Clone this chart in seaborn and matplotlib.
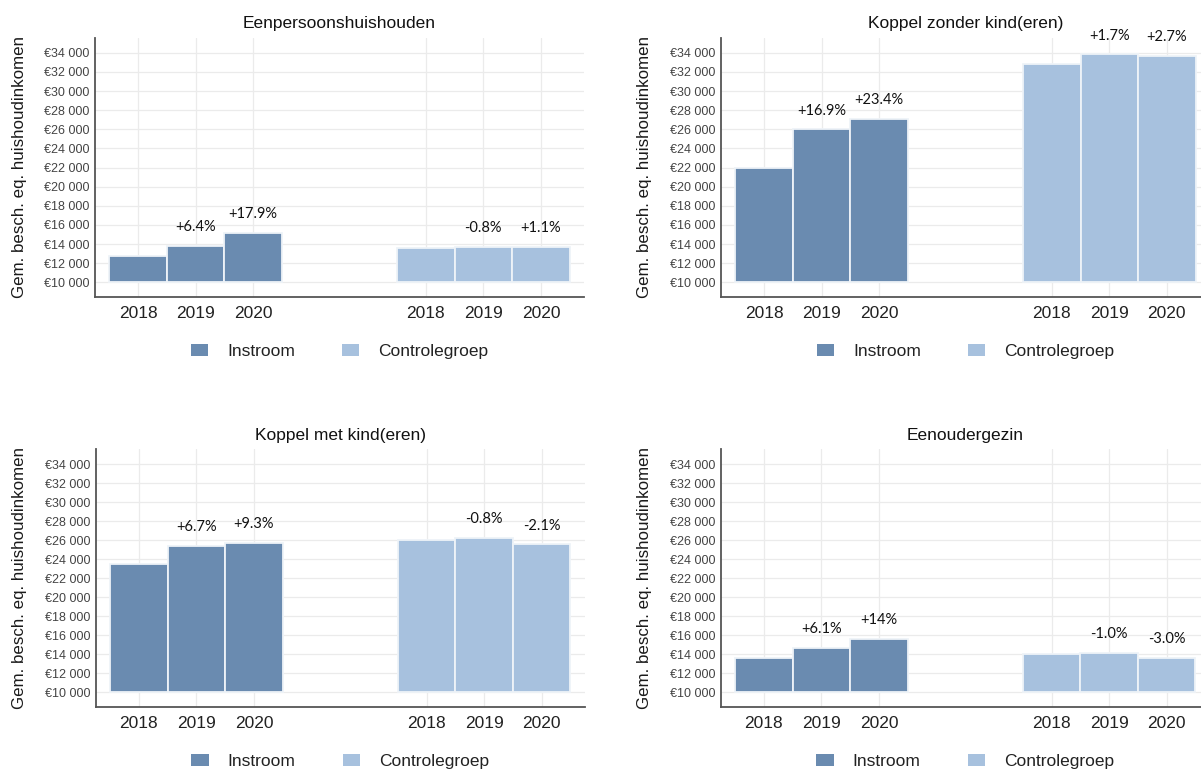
import pandas as pd
import matplotlib
matplotlib.use('Agg')
import matplotlib.pyplot as plt
import matplotlib.ticker as mticker
from matplotlib.patches import Patch
import seaborn as sns

# values
jaren = ['2018', '2019', '2020']
groepen = ['Instroom', 'Controlegroep']
titels = ['Eenpersoonshuishouden', 'Koppel zonder kind(eren)',
          'Koppel met kind(eren)', 'Eenoudergezin']

instroom_eenpersoons = [12790, 13830, 15150]
controle_eenpersoons = [13560, 13670, 13700]
instroom_zonder_kind = [22000, 26000, 27100]
controle_zonder_kind = [32830, 33850, 33680]
instroom_met_kind = [23460, 25400, 25680]
controle_met_kind = [26030, 26200, 25550]
instroom_eenouder = [13650, 14700, 15590]
controle_eenouder = [14070, 14130, 13650]

pct_instroom_eenpersoons = ['', '+6.4%', '+17.9%']
pct_controle_eenpersoons = ['', '-0.8%', '+1.1%']
pct_instroom_zonder_kind = ['', '+16.9%', '+23.4%']
pct_controle_zonder_kind = ['', '+1.7%', '+2.7%']
pct_instroom_met_kind = ['', '+6.7%', '+9.3%']
pct_controle_met_kind = ['', '-0.8%', '-2.1%']
pct_instroom_eenouder = ['', '+6.1%', '+14%']
pct_controle_eenouder = ['', '-1.0%', '-3.0%']

y_ticks = list(range(10000, 34001, 2000))
basis = 10000

kleuren = {'Instroom': '#6a8bb0', 'Controlegroep': '#a7c1de'}

panels = [
    (titels[0], instroom_eenpersoons, controle_eenpersoons, pct_instroom_eenpersoons, pct_controle_eenpersoons),
    (titels[1], instroom_zonder_kind, controle_zonder_kind, pct_instroom_zonder_kind, pct_controle_zonder_kind),
    (titels[2], instroom_met_kind, controle_met_kind, pct_instroom_met_kind, pct_controle_met_kind),
    (titels[3], instroom_eenouder, controle_eenouder, pct_instroom_eenouder, pct_controle_eenouder),
]

# category slots: three years per group with two empty slots between
volgorde = ['I2018', 'I2019', 'I2020', 'leeg1', 'leeg2', 'C2018', 'C2019', 'C2020']
tick_pos = [0, 1, 2, 5, 6, 7]

# axes rectangles in figure fractions (left, bottom, width, height)
posities = [
    [0.0791, 0.6152, 0.4072, 0.3355],
    [0.6003, 0.6152, 0.4072, 0.3355],
    [0.0797, 0.0834, 0.4072, 0.3339],
    [0.6001, 0.0834, 0.4072, 0.3339],
]


def make_frame(instroom, controle, pct_i, pct_c):
    rows = []
    for jaar, waarde, pct in zip(jaren, instroom, pct_i):
        rows.append({'slot': 'I' + jaar, 'groep': 'Instroom', 'waarde': waarde, 'pct': pct})
    for jaar, waarde, pct in zip(jaren, controle, pct_c):
        rows.append({'slot': 'C' + jaar, 'groep': 'Controlegroep', 'waarde': waarde, 'pct': pct})
    df = pd.DataFrame(rows)
    df['hoogte'] = df['waarde'] - basis
    return df


def euro(v, _):
    return '€' + f'{int(v):,}'.replace(',', ' ')


def plot_panel(ax, titel, df):
    sns.barplot(data=df, x='slot', y='hoogte', hue='groep', order=volgorde,
                hue_order=groepen, palette=kleuren, dodge=False, width=1.0,
                saturation=1, errorbar=None, bottom=basis, edgecolor='#eef3f8',
                linewidth=1.3, legend=False, ax=ax)
    ax.set_ylim(8500, 35550)
    ax.set_xlim(-0.75, 7.75)
    ax.set_yticks(y_ticks)
    ax.yaxis.set_major_formatter(mticker.FuncFormatter(euro))
    ax.set_xticks(tick_pos)
    ax.set_xticklabels(jaren * 2)
    ax.tick_params(axis='y', labelsize=9, colors='#444444', length=0, pad=4)
    ax.tick_params(axis='x', labelsize=12.5, labelcolor='#222222', length=0, pad=7)
    ax.set_xlabel('')
    ax.set_ylabel('Gem. besch. eq. huishoudinkomen', fontsize=12.2, color='#1a1a1a')
    ax.yaxis.set_label_coords(-0.14, 0.5)
    ax.set_title(titel, fontsize=12.5, color='#111111', pad=7)
    ax.grid(True, color='#ebebeb', linewidth=0.9)
    ax.set_axisbelow(True)
    for side in ['top', 'right']:
        ax.spines[side].set_visible(False)
    for side in ['left', 'bottom']:
        ax.spines[side].set_visible(True)
        ax.spines[side].set_color('#555555')
        ax.spines[side].set_linewidth(1.3)

    for _, row in df.iterrows():
        if row['pct']:
            x = volgorde.index(row['slot'])
            ax.annotate(row['pct'], (x, row['waarde']), xytext=(0, 13.5),
                        textcoords='offset points', ha='center', va='center',
                        fontsize=10.5, family=['Lato', 'DejaVu Sans'], color='#111111')

    handles = [Patch(facecolor=kleuren[g], edgecolor='none') for g in groepen]
    ax.legend(handles, groepen, loc='center', bbox_to_anchor=(0.5, -0.213),
              ncol=2, frameon=False, fontsize=12.5, handlelength=1.0,
              handleheight=0.7, handletextpad=1.1, columnspacing=2.7,
              labelcolor='#222222')


def main():
    sns.set_theme(style='whitegrid')
    plt.rcParams['font.family'] = ['Liberation Sans', 'DejaVu Sans']
    fig = plt.figure(figsize=(12.01, 7.71), dpi=100)
    for pos, (titel, instroom, controle, pct_i, pct_c) in zip(posities, panels):
        ax = fig.add_axes(pos)
        df = make_frame(instroom, controle, pct_i, pct_c)
        plot_panel(ax, titel, df)
    fig.savefig('out.png', dpi=100)


if __name__ == "__main__":
    main()
